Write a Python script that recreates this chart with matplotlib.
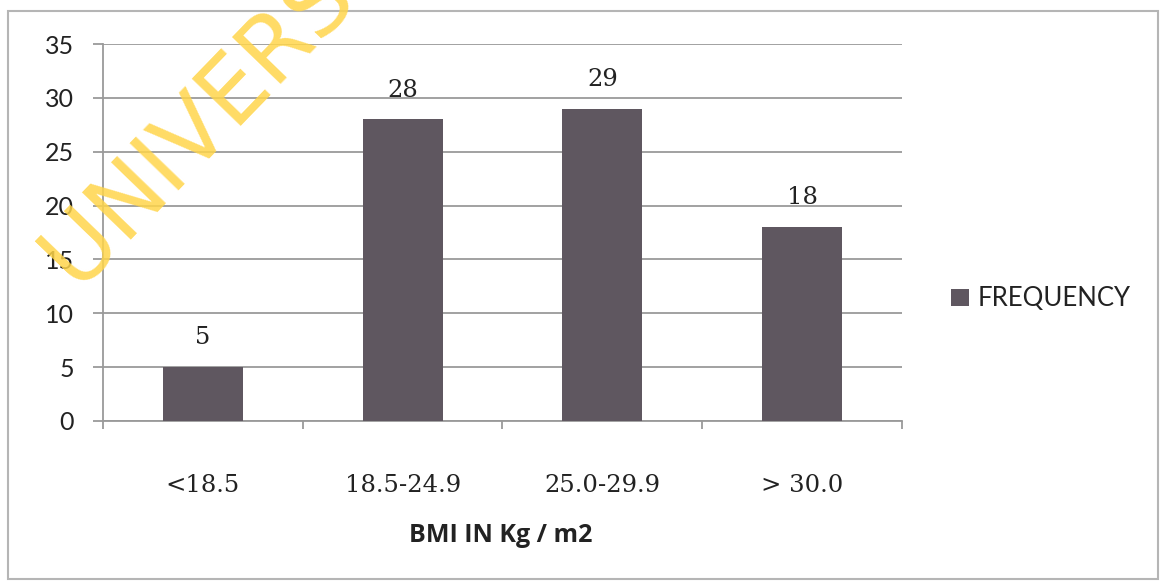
import matplotlib.pyplot as plt
from matplotlib.patches import Rectangle

categories = ["<18.5", "18.5-24.9", "25.0-29.9", "> 30.0"]
frequency = [5, 28, 29, 18]
y_ticks = [0, 5, 10, 15, 20, 25, 30, 35]

bar_color = "#5f5760"
grid_color = "#9a9a9a"
text_color = "#222222"
stamp_color = "#ffd54a"

W, H = 1161, 583
fig = plt.figure(figsize=(W / 100, H / 100), dpi=100)
ax = fig.add_axes([103 / W, 1 - 421 / H, 799 / W, 377 / H])

x = list(range(len(categories)))
bars = ax.bar(x, frequency, width=0.4, color=bar_color, label="FREQUENCY", zorder=3)

ax.set_xlim(-0.5, len(categories) - 0.5)
ax.set_ylim(0, 35)
ax.set_yticks(y_ticks)
ax.yaxis.grid(True, color=grid_color, linewidth=1.3, zorder=0)

for s in ["top", "right"]:
    ax.spines[s].set_visible(False)
for s in ["left", "bottom"]:
    ax.spines[s].set_color(grid_color)
    ax.spines[s].set_linewidth(1.3)

# category labels centred under bars, tick marks on the category boundaries
ax.set_xticks(x)
ax.set_xticklabels(categories, family="DejaVu Serif", fontsize=17.5, color=text_color)
ax.tick_params(axis="x", which="major", length=0, pad=38)
ax.set_xticks([i - 0.5 for i in range(len(categories) + 1)], minor=True)
ax.tick_params(axis="x", which="minor", length=6, color=grid_color, width=1.3)

ax.tick_params(axis="y", length=7, color=grid_color, width=1.3, pad=14)
for t in ax.get_yticklabels():
    t.set_family("Lato")
    t.set_fontsize(18)
    t.set_color(text_color)

for b, v in zip(bars, frequency):
    ax.annotate(str(v), (b.get_x() + b.get_width() / 2, v),
                xytext=(0, 21), textcoords="offset points",
                ha="center", va="center", family="DejaVu Serif",
                fontsize=17.5, color=text_color)

fig.text(501 / W, 1 - 536 / H, "BMI IN Kg / m2", ha="center", va="center",
         family="Open Sans", fontweight="bold", fontsize=18, color=text_color)

fig.legend(loc="center left", bbox_to_anchor=(928 / W, 1 - 299 / H), frameon=False,
           prop={"family": "Lato", "size": 18.5}, handlelength=0.7, handleheight=0.7,
           handletextpad=0.35, labelcolor=text_color)

# chart frame
fig.patches.append(Rectangle((8 / W, 1 - 579 / H), 1150 / W, 568 / H,
                             transform=fig.transFigure, fill=False,
                             edgecolor="#b5b5b5", linewidth=1.5))

fig.text(76 / W, 1 - 288 / H, "UNIVERSITY", rotation=46, rotation_mode="anchor",
         ha="left", va="baseline", family="DejaVu Sans",
         fontsize=66, color=stamp_color, alpha=0.85, zorder=10)

fig.savefig("out.png", dpi=100)
